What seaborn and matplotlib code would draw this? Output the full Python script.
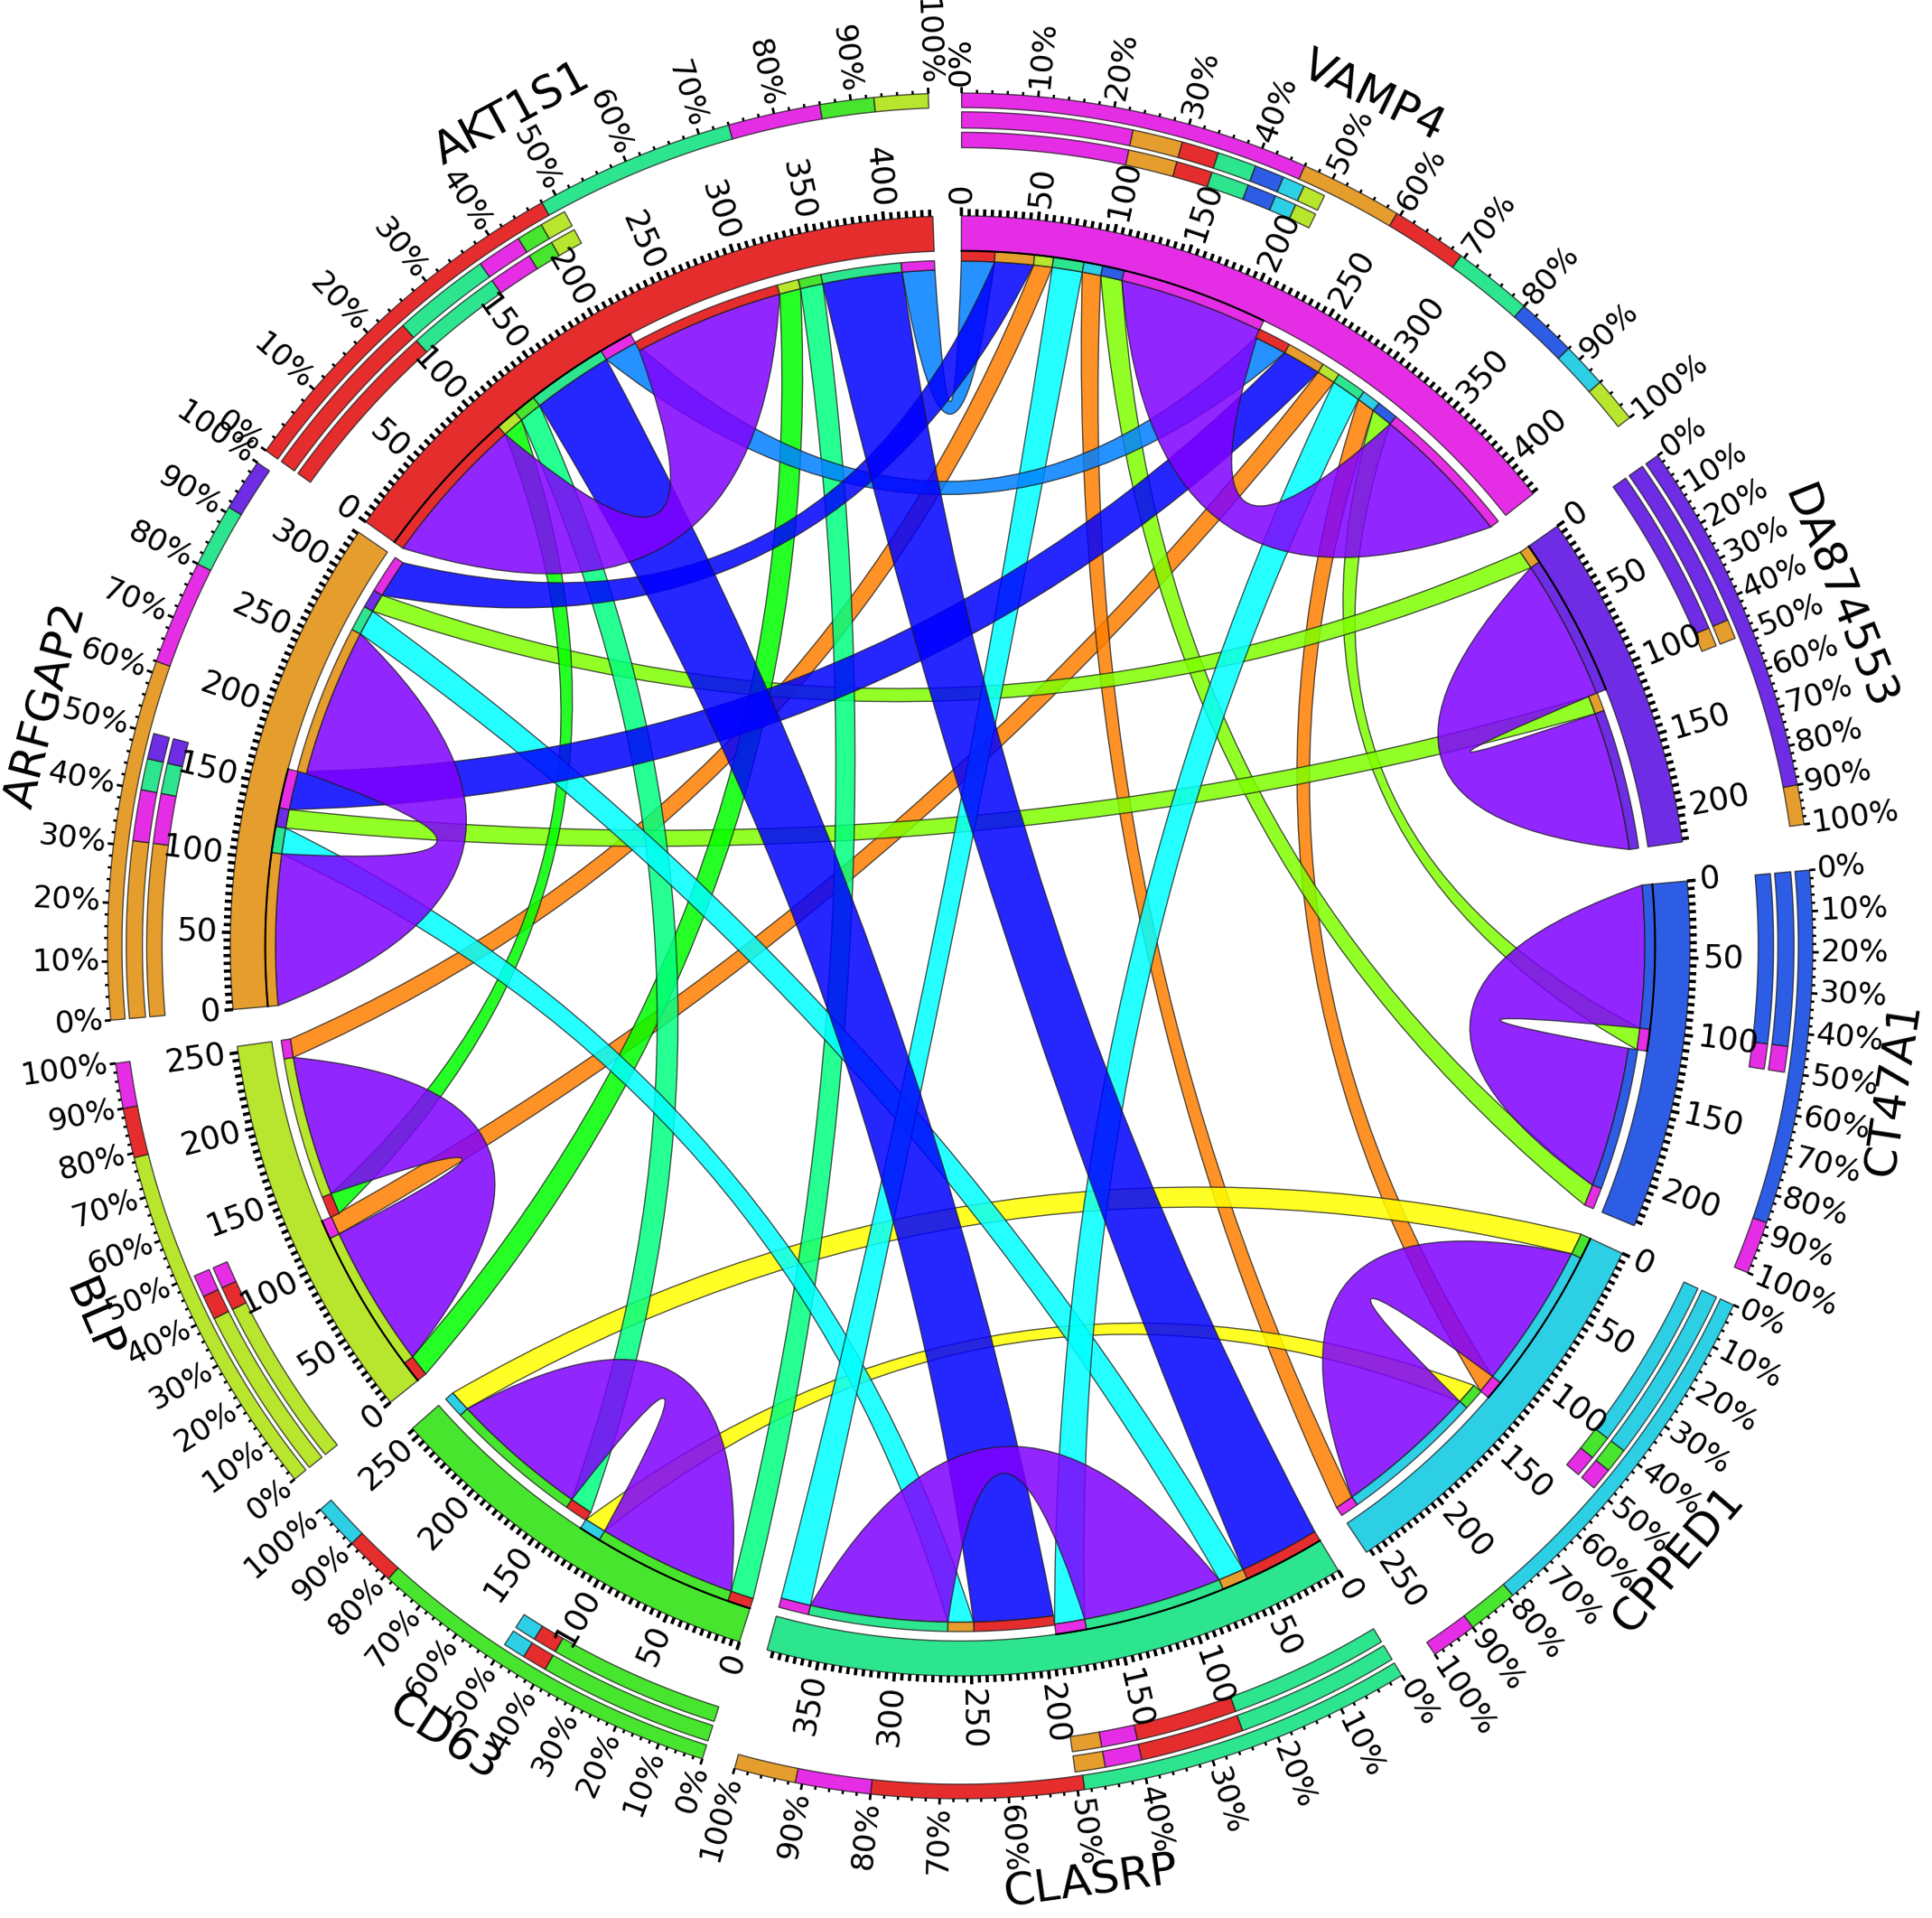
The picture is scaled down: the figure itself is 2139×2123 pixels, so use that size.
import numpy as np
import matplotlib
matplotlib.use('Agg')
import matplotlib.pyplot as plt
from matplotlib.path import Path
from matplotlib.patches import PathPatch
from matplotlib.collections import LineCollection
import seaborn as sns

# sectors clockwise from the top
sectors = ['VAMP4', 'DA874553', 'CT47A1', 'CPPED1', 'CLASRP', 'CD63', 'BLP', 'ARFGAP2', 'AKT1S1']
sector_hex = ['#E52DE5', '#6E2DE5', '#2D5CE5', '#2DCFE5', '#2DE58E', '#47E52D', '#B8E52D', '#E59E2D', '#E52D2D']
# angle where each sector starts, degrees clockwise from north
sector_deg = [0.1, 54.9, 84.9, 114.9, 148.8, 197.6, 231.3, 265.0, 305.5]

# links between sectors, drawn in this order (small ones below)
pair_a = ['BLP', 'CPPED1', 'CD63', 'CT47A1', 'ARFGAP2', 'AKT1S1', 'AKT1S1', 'ARFGAP2', 'CLASRP', 'AKT1S1', 'ARFGAP2', 'AKT1S1']
pair_b = ['VAMP4', 'VAMP4', 'CPPED1', 'VAMP4', 'DA874553', 'BLP', 'CD63', 'CLASRP', 'VAMP4', 'VAMP4', 'VAMP4', 'CLASRP']
pair_value = [13, 13, 15, 15, 13, 15, 16, 18, 21, 23, 27, 56]
pair_hue = ['orange', 'orange', 'yellow', 'lime', 'lime', 'green', 'spring', 'cyan', 'cyan', 'dodger', 'blue', 'blue']

# link of a sector with itself
self_value = [101, 98, 99, 101, 97, 97, 99, 105, 106]

hue_hex = {'orange': '#FF7F00', 'yellow': '#FFFF00', 'lime': '#7FFF00', 'green': '#00FF00',
           'spring': '#00FF7F', 'cyan': '#00FFFF', 'dodger': '#007FFF', 'blue': '#0000FF',
           'purple': '#7F00FF'}

# outer percent ring, partner and share in %
ring_partner = {
    'VAMP4': ['VAMP4', 'ARFGAP2', 'AKT1S1', 'CLASRP', 'CT47A1', 'CPPED1', 'BLP'],
    'DA874553': ['DA874553', 'ARFGAP2'],
    'CT47A1': ['CT47A1', 'VAMP4'],
    'CPPED1': ['CPPED1', 'CD63', 'VAMP4'],
    'CLASRP': ['CLASRP', 'AKT1S1', 'VAMP4', 'ARFGAP2'],
    'CD63': ['CD63', 'AKT1S1', 'CPPED1'],
    'BLP': ['BLP', 'AKT1S1', 'VAMP4'],
    'ARFGAP2': ['ARFGAP2', 'VAMP4', 'CLASRP', 'DA874553'],
    'AKT1S1': ['AKT1S1', 'CLASRP', 'VAMP4', 'CD63', 'BLP'],
}
ring_share = {
    'VAMP4': [46, 13.5, 10, 10.5, 8, 6, 6],
    'DA874553': [90, 10],
    'CT47A1': [87, 13],
    'CPPED1': [79, 11, 10],
    'CLASRP': [49, 31, 11, 9],
    'CD63': [79, 11, 10],
    'BLP': [79, 11, 10],
    'ARFGAP2': [62, 18, 11, 9],
    'AKT1S1': [48, 26, 12, 7, 7],
}

sns.set_theme(style='white')
plt.rcParams['font.family'] = ['DejaVu Sans']
colors = dict(zip(sectors, sns.color_palette(sector_hex)))
edge = (0.1, 0.1, 0.1, 0.75)

fig = plt.figure(figsize=(21.39, 21.23), dpi=100)
ax = fig.add_axes([0, 0, 1, 1])
ax.set_xlim(-1063 / 944, 1076 / 944)
ax.set_ylim(-1076 / 944, 1047 / 944)
ax.axis('off')

DEG_PER_UNIT = 0.1212
# each sector holds every partner twice: two equal halves
partners = {}
for s, v in zip(sectors, self_value):
    partners[s] = {s: v}
for a, b, v in zip(pair_a, pair_b, pair_value):
    partners[a][b] = v
    partners[b][a] = v
half = {s: sum(partners[s].values()) for s in sectors}

sector_start = dict(zip(sectors, sector_deg))
seg = {}
for s in sectors:
    u = 0
    for h in (0, 1):
        for p in sorted(partners[s]):
            seg[(s, h, p)] = (sector_start[s] + u * DEG_PER_UNIT, sector_start[s] + (u + partners[s][p]) * DEG_PER_UNIT)
            u += partners[s][p]


def xy(theta, r):
    t = np.radians(theta)
    return np.array([r * np.sin(t), r * np.cos(t)])


def arc_pts(t0, t1, r):
    n = max(2, int(abs(t1 - t0) * 2) + 2)
    return [xy(t, r) for t in np.linspace(t0, t1, n)]


def band(t0, t1, r0, r1, color, lw=1.0, z=3):
    pts = arc_pts(t0, t1, r1) + arc_pts(t1, t0, r0)
    codes = [Path.MOVETO] + [Path.LINETO] * (len(pts) - 1) + [Path.CLOSEPOLY]
    ax.add_patch(PathPatch(Path(pts + [pts[0]], codes), facecolor=color, edgecolor=edge, lw=lw, zorder=z))


def ctrl_point(t0, t1):
    # control point of a ribbon edge: closer to the centre when the chord is long
    d = (t1 - t0) % 360
    if d > 180:
        span = 360 - d
        mid = t0 - span / 2
    else:
        span = d
        mid = t0 + span / 2
    r = np.interp(span, [0, 8, 20, 40, 63, 85, 105, 115, 135, 152, 161, 180],
                  [0.49, 0.45, 0.44, 0.41, 0.36, 0.31, 0.23, 0.16, 0.13, 0.05, 0.03, 0.0])
    return xy(mid, r)


def ribbon(a, ra, b, rb, color):
    verts = arc_pts(a[0], a[1], ra)
    codes = [Path.MOVETO] + [Path.LINETO] * (len(verts) - 1)
    verts += [ctrl_point(a[1], b[0]), xy(b[0], rb)]
    codes += [Path.CURVE3, Path.CURVE3]
    tail = arc_pts(b[0], b[1], rb)[1:]
    verts += tail
    codes += [Path.LINETO] * len(tail)
    verts += [ctrl_point(b[1], a[0]), xy(a[0], ra)]
    codes += [Path.CURVE3, Path.CURVE3]
    ax.add_patch(PathPatch(Path(verts, codes), facecolor=matplotlib.colors.to_rgba(color, 0.85),
                           edgecolor=edge, lw=1.0, zorder=2))


RAD_IN = {0: 0.803, 1: 0.793}

for a, b, hue in zip(pair_a, pair_b, pair_hue):
    col = hue_hex[hue]
    ribbon(seg[(a, 0, b)], RAD_IN[0], seg[(b, 1, a)], RAD_IN[1], col)
    ribbon(seg[(a, 1, b)], RAD_IN[1], seg[(b, 0, a)], RAD_IN[0], col)
for s in sectors:
    ribbon(seg[(s, 0, s)], RAD_IN[0], seg[(s, 1, s)], RAD_IN[1], hue_hex['purple'])

major, minor, pmajor, pminor = [], [], [], []
for s in sectors:
    t0 = sector_start[s]
    size = half[s] * 2
    t1 = t0 + size * DEG_PER_UNIT
    band(t0, t1, 0.815, 0.856, colors[s])
    # black line under the first half
    ax.plot(*np.array(arc_pts(t0, t0 + half[s] * DEG_PER_UNIT, 0.8150)).T, color='black', lw=1.5, zorder=4)

    for h, (ri, ro) in enumerate([(0.803, 0.815), (0.793, 0.804)]):
        for p in sorted(partners[s]):
            a0, a1 = seg[(s, h, p)]
            band(a0, a1, ri, ro, colors[p])

    # value axis
    for v in range(0, size + 1, 5):
        t = t0 + v * DEG_PER_UNIT
        if v % 50 == 0:
            major.append([xy(t, 0.856), xy(t, 0.866)])
            ang = t % 360
            rot, ha = (90 - ang, 'left') if ang < 180 else (270 - ang, 'right')
            ax.text(*xy(t, 0.871), str(v), rotation=rot, ha=ha, va='center', rotation_mode='anchor',
                    fontsize=25.5, color='black', zorder=6)
        else:
            minor.append([xy(t, 0.856), xy(t, 0.864)])

    # percent rings
    for r_in, r_out, scale in [(0.983, 1.0, 1.0), (0.959, 0.978, 0.5), (0.936, 0.954, 0.5)]:
        c = 0.0
        for p, share in zip(ring_partner[s], ring_share[s]):
            a0 = t0 + (t1 - t0) * c * scale / 100
            c += share
            band(a0, t0 + (t1 - t0) * c * scale / 100, r_in, r_out, colors[p])

    for v in range(0, 101, 2):
        t = t0 + (t1 - t0) * v / 100
        if v % 10 == 0:
            pmajor.append([xy(t, 1.0), xy(t, 1.007)])
            ang = t % 360
            rot, ha = (90 - ang, 'left') if ang < 180 else (270 - ang, 'right')
            ax.text(*xy(t, 1.009), f'{v}%', rotation=rot, ha=ha, va='center', rotation_mode='anchor',
                    fontsize=24.5, color='black', zorder=6)
        else:
            pminor.append([xy(t, 1.0), xy(t, 1.004)])

    # sector name
    mid = (t0 + t1) / 2
    rot = -mid if (mid < 90 or mid > 270) else 180 - mid
    ax.text(*xy(mid, 1.108), s, rotation=rot, ha='center', va='center', rotation_mode='anchor',
            fontsize=36, color='black', zorder=6)

ax.add_collection(LineCollection(major, colors='black', linewidths=2.6, zorder=4))
ax.add_collection(LineCollection(minor, colors='black', linewidths=2.6, zorder=4))
ax.add_collection(LineCollection(pmajor, colors='black', linewidths=2.0, zorder=4))
ax.add_collection(LineCollection(pminor, colors='black', linewidths=1.8, zorder=4))

plt.savefig('out.png', dpi=100)
